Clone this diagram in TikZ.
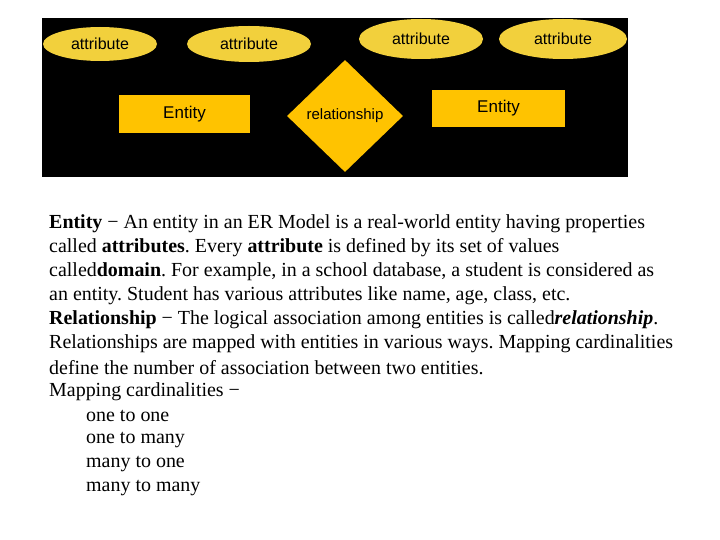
\documentclass[tikz,border=0pt]{standalone}
\usepackage{fontspec}
\setmainfont{Liberation Serif}
\newfontfamily\sansf{Liberation Sans}
\usetikzlibrary{shapes.geometric}
\definecolor{ell}{HTML}{F2D03C}
\definecolor{box}{HTML}{FFC300}
\frenchspacing
\tikzset{
 attr/.style={ellipse,fill=ell,inner sep=0pt,font=\sansf\fontsize{16}{18}\selectfont},
 ent/.style={rectangle,fill=box,inner sep=0pt,font=\sansf\fontsize{17}{19}\selectfont},
 rel/.style={diamond,fill=box,inner sep=0pt,font=\sansf\fontsize{15}{17}\selectfont},
 txt/.style={anchor=west,inner sep=0pt,font=\fontsize{19.95}{22}\selectfont}
}
\begin{document}
\begin{tikzpicture}[x=1pt,y=-1pt]
\useasboundingbox (0,0) rectangle (720,540);
\fill[white] (0,0) rectangle (720,540);
\node[fill=black,minimum width=586pt,minimum height=159pt,inner sep=0pt,anchor=north west] (bg) at (42,18) {};
\node[attr,minimum width=114pt,minimum height=34pt] (a1) at (100,44) {attribute};
\node[attr,minimum width=124pt,minimum height=36pt] (a2) at (249,44) {attribute};
\node[attr,minimum width=124pt,minimum height=40pt] (a3) at (421,39) {attribute};
\node[attr,minimum width=128pt,minimum height=40pt] (a4) at (563,39) {attribute};
\node[ent,minimum width=131pt,minimum height=38pt] (e1) at (184.5,114) {Entity};
\node[ent,minimum width=133pt,minimum height=37pt] (e2) at (498.5,108.5) {Entity};
\node[rel,minimum width=116pt,minimum height=112pt,text width=0pt,align=center] (r) at (345,116) {\makebox[0pt]{relationship}};
\begin{scope}[yshift=-3pt]
\node[txt] (l1) at (49,221) {\textbf{Entity} − An entity in an ER Model is a real-world entity having properties};
\node[txt] (l2) at (49,245) {called \textbf{attributes}. Every \textbf{attribute} is defined by its set of values};
\node[txt] (l3) at (49,269) {called\textbf{domain}. For example, in a school database, a student is considered as};
\node[txt] (l4) at (49,293) {an entity. Student has various attributes like name, age, class, etc.};
\node[txt] (l5) at (49,317) {\textbf{Relationship} − The logical association among entities is called\textbf{\textit{relationship}}.};
\node[txt] (l6) at (49,341) {Relationships are mapped with entities in various ways. Mapping cardinalities};
\node[txt] (l7) at (49,365) {define the number of association between two entities.};
\node[txt] (l8) at (49,389) {Mapping cardinalities −};
\node[txt] (l9) at (86,413) {one to one};
\node[txt] (l10) at (86,437) {one to many};
\node[txt] (l11) at (86,461) {many to one};
\node[txt] (l12) at (86,485) {many to many};
\end{scope}
\end{tikzpicture}
\end{document}
